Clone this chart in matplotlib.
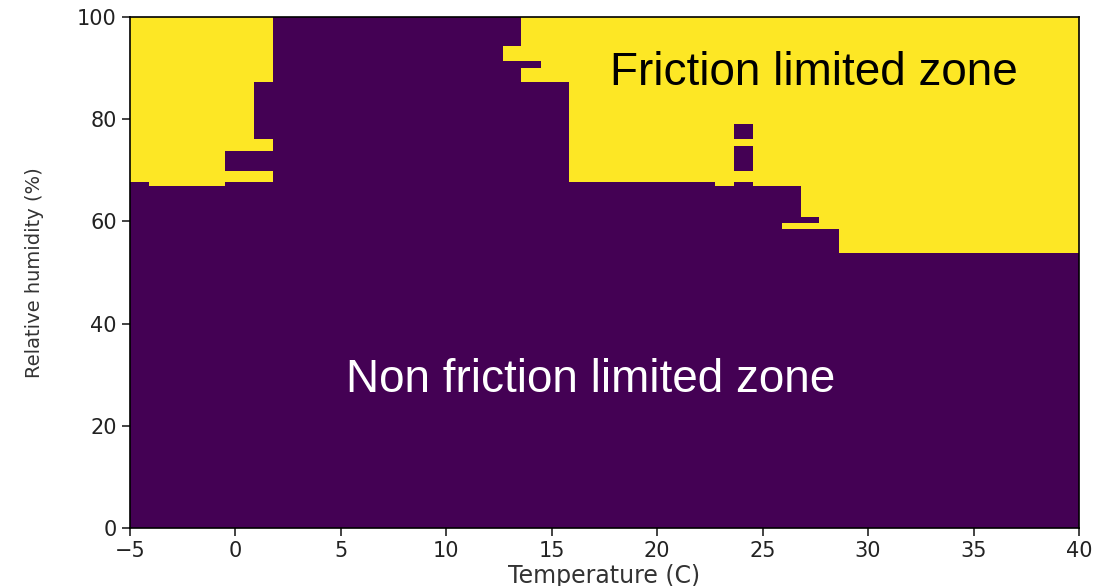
import numpy as np
import matplotlib.pyplot as plt

# friction limited cells (yellow), in data units: temperature (C) and RH (%)
fric_t0 = [-5, -5, -5, -5, -5, -4.1,
           13.55, 12.67, 14.47, 13.55, 15.83,
           22.72, 24.53, 26.8, 27.68, 25.9, 28.63]
fric_t1 = [1.77, 0.88, 1.77, -0.48, 1.77, -0.48,
           40, 40, 40, 40, 40,
           23.65, 26.8, 40, 40, 40, 40]
fric_rh0 = [87.3, 76.1, 73.7, 69.8, 67.8, 66.9,
            94.3, 91.3, 90.1, 87.3, 67.8,
            66.9, 66.9, 60.9, 59.7, 58.5, 53.8]
fric_rh1 = [100, 87.3, 76.1, 73.7, 69.8, 67.8,
            100, 94.3, 91.3, 90.1, 87.3,
            67.8, 67.8, 67.8, 60.9, 59.7, 58.5]

# non friction holes inside the yellow area
hole_t0 = [23.65, 23.65]
hole_t1 = [24.53, 24.53]
hole_rh0 = [76.1, 69.9]
hole_rh1 = [79.0, 74.8]

t_lim = [-5, 40]
rh_lim = [0, 100]

# build cell grid from the rectangle edges
t_edges = np.unique(np.r_[fric_t0, fric_t1, hole_t0, hole_t1, t_lim])
rh_edges = np.unique(np.r_[fric_rh0, fric_rh1, hole_rh0, hole_rh1, rh_lim])
tc = (t_edges[:-1] + t_edges[1:]) / 2
rc = (rh_edges[:-1] + rh_edges[1:]) / 2
TC, RC = np.meshgrid(tc, rc)
Z = np.zeros_like(TC)
for a, b, c, d in zip(fric_t0, fric_t1, fric_rh0, fric_rh1):
    Z[(TC > a) & (TC < b) & (RC > c) & (RC < d)] = 1
for a, b, c, d in zip(hole_t0, hole_t1, hole_rh0, hole_rh1):
    Z[(TC > a) & (TC < b) & (RC > c) & (RC < d)] = 0

fig = plt.figure(figsize=(11.15, 5.86), dpi=100)
ax = fig.add_axes([130 / 1115, 1 - 528 / 586, 949 / 1115, 511 / 586])
ax.pcolormesh(t_edges, rh_edges, Z, cmap='viridis', vmin=0, vmax=1)
ax.set_xlim(t_lim)
ax.set_ylim(rh_lim)
ax.set_xticks(np.arange(-5, 41, 5))
ax.set_yticks(np.arange(0, 101, 20))
ax.tick_params(labelsize=15, length=6, width=1.2, colors='#222222')
for s in ax.spines.values():
    s.set_linewidth(1.2)

ax.set_xlabel('Temperature (C)', fontsize=17, labelpad=2, color='#333333')
ax.set_ylabel('Relative humidity (%)', fontsize=14, labelpad=24, color='#333333',
              family=['Liberation Sans Narrow', 'DejaVu Sans'])

ax.text(27.43, 86.7, 'Friction limited zone', fontsize=33, family='Liberation Sans',
        ha='center', va='baseline', color='black')
ax.text(16.86, 26.7, 'Non friction limited zone', fontsize=33, family='Liberation Sans',
        ha='center', va='baseline', color='white')

fig.savefig('out.png', dpi=100)
